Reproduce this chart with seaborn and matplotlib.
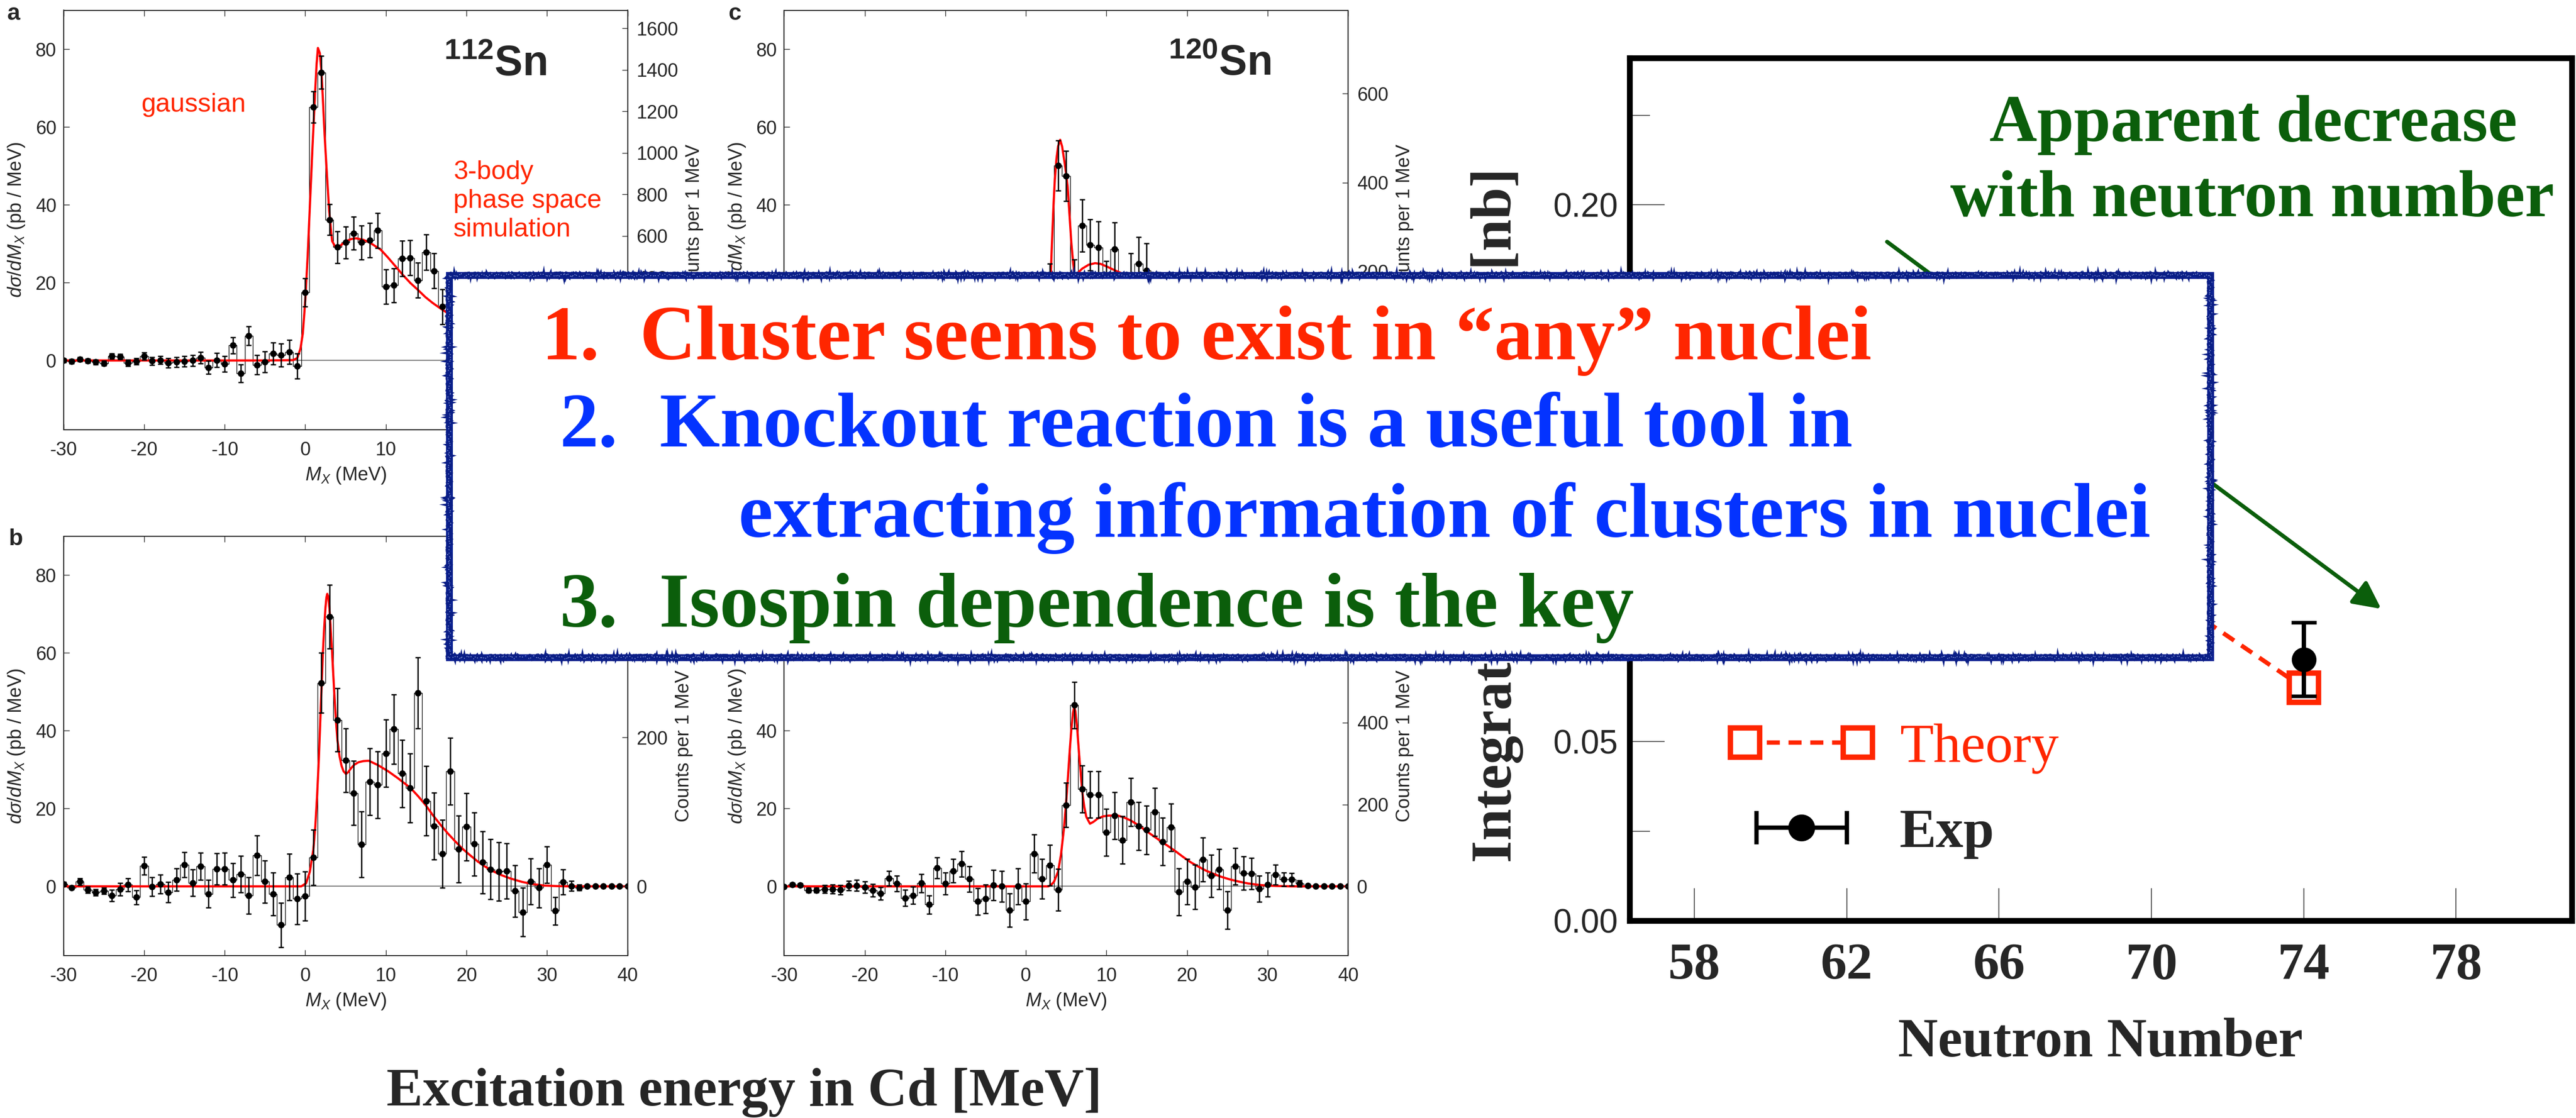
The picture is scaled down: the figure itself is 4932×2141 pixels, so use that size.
import numpy as np
import pandas as pd
import matplotlib
matplotlib.use("Agg")
import matplotlib.pyplot as plt
import seaborn as sns
from matplotlib.patches import Rectangle
from matplotlib.ticker import FixedLocator
from matplotlib.legend_handler import HandlerLine2D, HandlerErrorbar

# ------------------------------------------------------------------ data
# panel a : 112Sn (upper left), bins right of 17 MeV are hidden by the box
energy_a = list(range(-30, 18))
xsec_a = [0.0, -0.2, 0.3, -0.1, -0.4, -0.7, 1.1, 1.0, -0.6, -0.2, 1.1, -0.1, 0.1, -0.6,
          -0.4, -0.2, 0.0, 0.7, -1.8, 0.1, -0.9, 3.9, -3.3, 6.3, -1.1, -0.4, 1.8, 1.4, 2.2,
          -1.4, 17.5, 65.1, 74.0, 36.2, 29.1, 30.3, 32.7, 30.3, 30.9, 33.4, 19.0, 19.3, 26.2,
          26.4, 20.6, 27.8, 23.0, 13.8]
err_a = [0.5, 0.5, 0.5, 0.5, 0.6, 0.6, 0.7, 0.7, 0.8, 0.8, 0.9, 1.0, 1.0, 1.2, 1.3, 1.3,
         1.4, 1.5, 1.7, 1.8, 2.0, 2.1, 2.3, 2.4, 2.5, 2.7, 2.8, 2.9, 3.1, 3.2, 3.6, 4.0, 4.2,
         4.0, 4.1, 4.1, 4.2, 4.4, 4.4, 4.5, 4.4, 4.3, 4.5, 4.5, 4.5, 4.6, 4.5, 4.5]
fit_a_x = [-30, -5, -1.5, -1.0, -0.6, -0.3, 0.0, 0.3, 0.6, 0.9, 1.2, 1.4, 1.57, 1.8, 2.0,
           2.18, 2.4, 2.64, 2.96, 3.33, 3.8, 4.3, 5.0, 5.7, 6.3, 7.2, 8.0, 9.35, 10.2, 11.2,
           12.1, 13.05, 14.0, 14.9, 15.8, 16.76, 17.8]
fit_a_y = [0, 0, 0.1, 0.6, 3.0, 7.0, 15.5, 27, 41, 55, 68, 76, 80.3, 79, 74.5, 67.4, 58,
           49.4, 38.6, 30.7, 28.9, 29.4, 30.6, 31.2, 31.4, 31.0, 30.3, 28.5, 26.6, 24.2,
           22.0, 19.9, 18.1, 16.3, 14.8, 13.4, 12.0]

# panel b (lower left)
energy_b = list(range(-30, 41))
xsec_b = [0.6, -0.4, 1.2, -0.9, -1.5, -1.2, -2.4, -0.8, 0.4, -2.8, 5.3, -0.1, 0.6, -1.5,
          1.7, 5.6, 0.9, 5.2, -1.9, 4.5, 4.5, 1.6, 3.2, -2.4, 8.0, 1.2, -1.9, -9.9, 2.4,
          -3.2, -2.5, 7.4, 52.3, 69.3, 42.8, 32.4, 24.0, 10.8, 26.9, 26.1, 34.2, 40.4, 29.0,
          25.3, 49.7, 22.0, 15.5, 8.4, 29.6, 9.6, 15.3, 10.9, 6.2, 4.4, 3.8, 4.0, -1.2, -6.6,
          1.3, -0.4, 5.5, -6.3, 1.1, 0.1, -0.3, 0, 0, 0, 0, 0, 0]
err_b = [0.5, 0.3, 0.9, 0.8, 0.8, 0.8, 1.5, 1.6, 1.7, 1.8, 2.3, 2.4, 2.4, 2.6, 2.9, 3.2,
         3.4, 3.5, 3.5, 4.0, 4.1, 4.3, 4.7, 4.7, 5.1, 5.4, 5.5, 5.7, 6.0, 6.5, 6.3, 7.1, 7.7,
         8.2, 8.1, 8.2, 8.3, 8.4, 8.6, 8.6, 8.7, 8.9, 8.7, 8.9, 9.1, 8.9, 8.6, 8.7, 8.6, 8.6,
         8.6, 8.1, 8.0, 7.7, 7.5, 7.1, 6.6, 6.2, 5.9, 5.0, 4.7, 3.6, 3.2, 1.3, 0.7, 0, 0, 0,
         0, 0, 0]
fit_b_x = [-30, -0.5, 0.1, 0.56, 1.0, 1.25, 1.48, 1.68, 1.85, 2.02, 2.18, 2.35, 2.5, 2.62,
           2.73, 2.85, 3.0, 3.15, 3.3, 3.5, 3.66, 3.83, 4.0, 4.25, 4.5, 4.75, 5.05, 5.35,
           5.65, 6.1, 6.6, 7.2, 7.87, 9.0, 10.28, 11.5, 13.06, 14.0, 14.9, 15.8, 16.76, 17.7,
           18.6, 19.5, 20.46, 21.4, 22.3, 23.2, 24.2, 25.5, 26.9, 28.3, 29.7, 31.5, 33, 40]
fit_b_y = [0, 0, 0.8, 3.7, 9.4, 15.5, 23.8, 32.5, 41.8, 51, 59.8, 66.5, 71.5, 74.2, 75.2,
           74.5, 71.5, 66.5, 61.3, 53.5, 47.6, 42, 37.5, 33.5, 31, 29.6, 28.9, 29.4, 30.3,
           31.3, 31.9, 32.2, 32.3, 31.2, 29.6, 27.8, 25.3, 23.2, 21.0, 18.4, 15.9, 13.6,
           11.6, 9.7, 8.0, 6.4, 5.1, 4.0, 3.0, 2.0, 1.15, 0.55, 0.2, 0.05, 0, 0]

# panel c : 120Sn (upper right), only the part above the box is visible
energy_c = list(range(2, 18))
xsec_c = [1.5, 18.6, 50.1, 47.4, 19.4, 34.7, 29.7, 29.0, 18.9, 28.6, 12.0, 20.7, 24.8,
          23.1, 12.0, 10.0]
err_c = [6.0, 6.3, 6.4, 6.5, 6.5, 6.7, 6.6, 6.7, 6.7, 6.8, 6.8, 6.8, 6.9, 7.0, 6.8, 6.7]
fit_c_x = [2.0, 2.7, 3.0, 3.2, 3.43, 3.6, 3.8, 4.0, 4.26, 4.5, 4.8, 5.0, 5.19, 5.4, 5.65,
           5.85, 6.02, 6.2, 6.5, 7.0, 7.8, 8.6, 9.3, 10.2, 11.0, 11.9, 13.0, 14.0]
fit_c_y = [0, 4, 16, 28, 39.8, 46.5, 51.8, 55, 56.7, 55, 51, 48, 44.6, 38, 30.2, 25.5,
           22.5, 21.8, 22.6, 23.6, 24.6, 25.0, 24.8, 24.0, 23.2, 22.4, 21.0, 19.5]

# panel d (lower right)
energy_d = list(range(-30, 41))
xsec_d = [-0.1, 0.5, 0.3, -1.0, -1.0, -0.7, -0.7, -0.9, 0.2, 0.2, -0.2, -1.0, -1.8, 2.1,
          0.7, -3.0, -2.3, 0.8, -4.7, 4.8, 0.7, 4.0, 5.8, 1.9, -3.9, -3.2, 0.3, 0.0, -6.1,
          0.0, -3.9, 8.4, 2.0, 5.4, -0.9, 20.9, 46.6, 25.0, 23.6, 23.6, 13.9, 18.2, 11.9,
          21.7, 15.5, 14.5, 19.1, 11.5, 15.2, -1.4, 1.2, -0.2, 6.9, 2.7, 4.4, -6.1, 5.1, 3.4,
          3.3, -0.6, 0.5, 3.0, 1.8, 1.8, 0.7, 0.15, 0, 0, 0, 0, 0]
err_d = [0.3, 0.4, 0.4, 0.6, 0.6, 1.0, 1.1, 1.2, 1.25, 1.4, 1.5, 1.6, 1.6, 1.9, 2.0, 2.1,
         2.2, 2.4, 2.4, 2.7, 2.8, 3.0, 3.3, 3.3, 3.4, 3.7, 3.9, 4.0, 4.3, 4.6, 4.6, 4.9, 5.1,
         5.2, 5.4, 5.7, 6.0, 6.0, 6.0, 6.0, 6.0, 6.0, 6.1, 6.2, 6.2, 6.2, 6.2, 6.1, 6.1,
         6.0, 5.9, 5.7, 5.6, 5.4, 5.2, 4.8, 4.7, 4.3, 4.0, 3.4, 3.1, 2.5, 1.8, 1.6, 0.8,
         0.3, 0, 0, 0, 0, 0]
fit_d_x = [-30, 2.8, 3.1, 3.5, 4.0, 4.35, 4.7, 5.0, 5.2, 5.45, 5.65, 5.85, 6.0, 6.15, 6.34,
           6.5, 6.67, 6.85, 7.04, 7.25, 7.5, 7.96, 8.4, 8.9, 9.6, 10.3, 11.4, 12.2, 13.05,
           14.0, 14.9, 15.8, 16.76, 17.7, 18.6, 19.5, 20.46, 21.4, 22.3, 23.2, 24.2, 25.3,
           26.5, 27.6, 28.8, 30.0, 31.1, 33, 40]
fit_d_y = [0, 0, 0.3, 1.2, 3.8, 8, 14.3, 21.5, 27.3, 35, 40.4, 44.5, 46.2, 45, 41.4, 37,
           32.5, 28, 23.7, 20.5, 17.9, 16.1, 16.6, 17.4, 18.0, 18.2, 18.2, 17.7, 16.9, 15.7,
           14.3, 13.0, 11.6, 10.3, 9.0, 7.6, 6.2, 5.1, 4.1, 3.3, 2.5, 1.8, 1.2, 0.75, 0.4,
           0.2, 0.1, 0, 0]

xticks_mx = [-30, -20, -10, 0, 10, 20, 30, 40]
yticks_xs = [0, 20, 40, 60, 80]
counts_scale_a, counts_scale_b, counts_scale_c, counts_scale_d = 18.75, 5.22, 8.75, 9.5
counts_ticks_a = [0, 200, 400, 600, 800, 1000, 1200, 1400, 1600]
counts_ticks_b = [0, 200, 400]
counts_ticks_c = [0, 200, 400, 600]
counts_ticks_d = [0, 200, 400, 600, 800]

# right panel : integrated cross section vs neutron number
neutron_ticks = [58, 62, 66, 70, 74, 78]
xs_ticks = [0.00, 0.05, 0.10, 0.15, 0.20]
xs_ticklabels = ["0.00", "0.05", "0.10", "0.15", "0.20"]
xs_minor = [0.025, 0.075, 0.125, 0.175, 0.225]
theory_N = [70, 74]
theory_xs = [0.094, 0.065]
exp_N = [74]
exp_xs = [0.073]
exp_err = [0.0103]

# ------------------------------------------------------------------ style
sns.set_style("ticks")
plt.rcParams["font.family"] = ["Liberation Sans", "DejaVu Sans"]
plt.rcParams["mathtext.fontset"] = "custom"
plt.rcParams["mathtext.rm"] = "Liberation Sans"
plt.rcParams["mathtext.it"] = "Liberation Sans:italic"
plt.rcParams["mathtext.bf"] = "Liberation Sans:bold"
plt.rcParams["axes.unicode_minus"] = False
SERIF = ["Liberation Serif", "DejaVu Serif"]

RED_TXT = "#FF2600"
BLUE_TXT = "#0433FF"
GREEN_TXT = "#0B5E0B"
FIT_RED = "#FF0000"
NAVY = "#0B2394"

W, H, DPI = 4932, 2141, 100
fig = plt.figure(figsize=(W / DPI, H / DPI), dpi=DPI)
fig.patch.set_facecolor("white")


def rect(l, t, r, b):
    return [l / W, 1 - b / H, (r - l) / W, (b - t) / H]


def fx(x):
    return x / W


def fy(y):
    return 1 - y / H


def spectrum(box, E, val, err, cx, cy, scale, cticks):
    ax = fig.add_axes(rect(*box))
    df = pd.DataFrame({"E": np.asarray(E, dtype=float), "v": np.asarray(val, dtype=float)})
    ax.axhline(0, color="0.35", lw=1.1, zorder=1)
    sns.histplot(data=df, x="E", weights="v", binwidth=1,
                 binrange=(float(E[0]) - 0.5, float(E[-1]) + 0.5), element="step",
                 fill=False, color="black", linewidth=0.9, ax=ax, zorder=2)
    sns.lineplot(x=cx, y=cy, color=FIT_RED, lw=3.0, ax=ax, zorder=3)
    ax.errorbar(df["E"], df["v"], yerr=err, fmt="o", color="black", ms=8, lw=1.8,
                capsize=3.5, capthick=1.8, zorder=4)
    ax.set_xlim(-30, 40)
    ax.set_ylim(-17.8, 90)
    ax.set_xticks(xticks_mx)
    ax.set_yticks(yticks_xs)
    ax.tick_params(axis="both", direction="in", length=8, width=1, labelsize=26,
                   top=True, right=False)
    ax.tick_params(axis="x", pad=16)
    ax.tick_params(axis="y", pad=10)
    for s in ax.spines.values():
        s.set_linewidth(1.1)
        s.set_color("black")
    ax.set_xlabel(r"$M_X$ (MeV)", fontsize=26, labelpad=8)
    ax.set_ylabel(r"$d\sigma/dM_X$ (pb / MeV)", fontsize=26, labelpad=12)
    ax2 = ax.twinx()
    ax2.set_ylim(-17.8 * scale, 90 * scale)
    ax2.set_yticks(cticks)
    ax2.tick_params(axis="y", direction="in", length=8, width=1, labelsize=26, pad=12)
    ax2.set_ylabel("Counts per 1 MeV", fontsize=26, labelpad=10)
    for s in ax2.spines.values():
        s.set_linewidth(1.1)
    return ax


ax_a = spectrum((121.7, 19.5, 1201.5, 823), energy_a, xsec_a, err_a, fit_a_x, fit_a_y,
                counts_scale_a, counts_ticks_a)
ax_b = spectrum((121.7, 1027, 1201.5, 1830), energy_b, xsec_b, err_b, fit_b_x, fit_b_y,
                counts_scale_b, counts_ticks_b)
ax_c = spectrum((1501.4, 19.5, 2581, 823), energy_c, xsec_c, err_c, fit_c_x, fit_c_y,
                counts_scale_c, counts_ticks_c)
ax_d = spectrum((1501.4, 1027, 2581, 1830), energy_d, xsec_d, err_d, fit_d_x, fit_d_y,
                counts_scale_d, counts_ticks_d)

# panel annotations
fig.text(fx(14), fy(38), "a", fontsize=32, fontweight="bold", va="baseline")
fig.text(fx(16), fy(1044), "b", fontsize=32, fontweight="bold", va="baseline")
fig.text(fx(1394), fy(38), "c", fontsize=32, fontweight="bold", va="baseline")
fig.text(fx(850), fy(144), r"$^{\mathbf{112}}$Sn", fontsize=58, fontweight="bold",
         va="baseline")
fig.text(fx(2237), fy(143), r"$^{\mathbf{120}}$Sn", fontsize=58, fontweight="bold",
         va="baseline")
fig.text(fx(271), fy(214), "gaussian", fontsize=36, color=RED_TXT, va="baseline")
fig.text(fx(868), fy(343), "3-body", fontsize=36, color=RED_TXT, va="baseline")
fig.text(fx(868), fy(398), "phase space", fontsize=36, color=RED_TXT, va="baseline")
fig.text(fx(868), fy(453), "simulation", fontsize=36, color=RED_TXT, va="baseline")
fig.text(fx(1425), fy(2117), "Excitation energy in Cd [MeV]", fontsize=75,
         fontweight="bold", family=SERIF, ha="center", va="baseline")

# ------------------------------------------------------------------ right panel
axR = fig.add_axes(rect(3120, 111, 4924, 1763))
th_line, = axR.plot(theory_N, theory_xs, ls=(0, (3, 2)), color=RED_TXT, lw=6,
                    marker="s", ms=40, mfc="white", mec=RED_TXT, mew=7.5, zorder=3)
exp_cont = axR.errorbar(exp_N, exp_xs, yerr=exp_err, fmt="o", color="black", ms=33,
                        lw=6, capsize=17.5, capthick=5, zorder=4)
exp_proxy = axR.errorbar([np.nan], [np.nan], xerr=[1.0], fmt="o", color="black", ms=36,
                         lw=6, capsize=23, capthick=6)
axR.set_xlim(56.3, 81.04)
axR.set_ylim(0, 0.241)
axR.set_xticks(neutron_ticks)
axR.set_xticklabels([str(n) for n in neutron_ticks], fontsize=72, fontweight="bold",
                    family=SERIF)
axR.set_yticks(xs_ticks)
axR.set_yticklabels(xs_ticklabels, fontsize=46)
axR.yaxis.set_minor_locator(FixedLocator(xs_minor))
axR.tick_params(axis="y", which="major", direction="in", length=48, width=1.2,
                color="0.25", pad=16, left=True, right=False)
axR.tick_params(axis="y", which="minor", direction="in", length=28, width=1.2,
                color="0.25", left=True, right=False)
axR.tick_params(axis="x", which="major", direction="in", length=45, width=1.2,
                color="0.25", pad=30, bottom=True, top=False)
for s in axR.spines.values():
    s.set_linewidth(8)
    s.set_color("black")
axR.set_xlabel("Neutron Number", fontsize=76, fontweight="bold", family=SERIF)
axR.xaxis.set_label_coords(0.5, -0.112)
axR.set_ylabel("Integrated cross section [nb]", fontsize=79, fontweight="bold",
               family=SERIF)
axR.yaxis.set_label_coords(-0.1125, 0.47)

leg = axR.legend([th_line, exp_proxy], ["Theory", "Exp"],
                 handler_map={th_line: HandlerLine2D(numpoints=2),
                              exp_proxy: HandlerErrorbar(xerr_size=0.82, numpoints=1)},
                 prop={"family": SERIF, "size": 76}, handlelength=2.646,
                 handletextpad=0.455, labelspacing=0.62, borderpad=0,
                 borderaxespad=0, frameon=False, loc="upper left",
                 bbox_to_anchor=(0.105, 0.2285))
leg.get_texts()[0].set_color(RED_TXT)
leg.get_texts()[1].set_fontweight("bold")

axR.annotate("", xy=(4559, H - 1166), xycoords="figure pixels",
             xytext=(3613, H - 463), textcoords="figure pixels",
             arrowprops=dict(arrowstyle="-|>", color=GREEN_TXT, lw=5.5,
                             mutation_scale=80, shrinkA=0, shrinkB=0))
fig.text(fx(4314), fy(270), "Apparent decrease", fontsize=91, fontweight="bold",
         family=SERIF, color=GREEN_TXT, ha="center", va="baseline", zorder=12)
fig.text(fx(4312), fy(414), "with neutron number", fontsize=91, fontweight="bold",
         family=SERIF, color=GREEN_TXT, ha="center", va="baseline", zorder=12)

# ------------------------------------------------------------------ summary box
bx0, by0, bx1, by1 = 860, 527, 4232, 1259
frame_xy = (fx(bx0), fy(by1))
frame_w, frame_h = (bx1 - bx0) / W, (by1 - by0) / H
box = Rectangle(frame_xy, frame_w, frame_h, transform=fig.transFigure,
                facecolor="white", edgecolor=NAVY, lw=9.5, zorder=10)
fig.add_artist(box)
rough = Rectangle(frame_xy, frame_w, frame_h, transform=fig.transFigure,
                  facecolor="none", edgecolor="#0A1E86", lw=4.0, zorder=10.4)
rough.set_sketch_params(scale=4, length=10, randomness=8)
fig.add_artist(rough)
speck = Rectangle(frame_xy, frame_w, frame_h, transform=fig.transFigure,
                  facecolor="none", edgecolor="#AFC0F0", lw=1.2, ls=(0, (1, 5)),
                  alpha=0.8, zorder=10.5)
speck.set_sketch_params(scale=3, length=6, randomness=5)
fig.add_artist(speck)

big = dict(fontsize=107, fontweight="bold", family=SERIF, va="baseline", zorder=11)
fig.text(fx(1036), fy(688), "1.", color=RED_TXT, **big)
fig.text(fx(1225), fy(688), "Cluster seems to exist in \u201cany\u201d nuclei",
         color=RED_TXT, **big)
fig.text(fx(1072), fy(855), "2.", color=BLUE_TXT, **big)
fig.text(fx(1263), fy(855), "Knockout reaction is a useful tool in", color=BLUE_TXT,
         **big)
fig.text(fx(1414), fy(1028), "extracting information of clusters in nuclei",
         color=BLUE_TXT, **big)
fig.text(fx(1072), fy(1200), "3.", color=GREEN_TXT, **big)
fig.text(fx(1262), fy(1200), "Isospin dependence is the key", color=GREEN_TXT, **big)

fig.savefig("out.png", dpi=DPI, facecolor="white")
